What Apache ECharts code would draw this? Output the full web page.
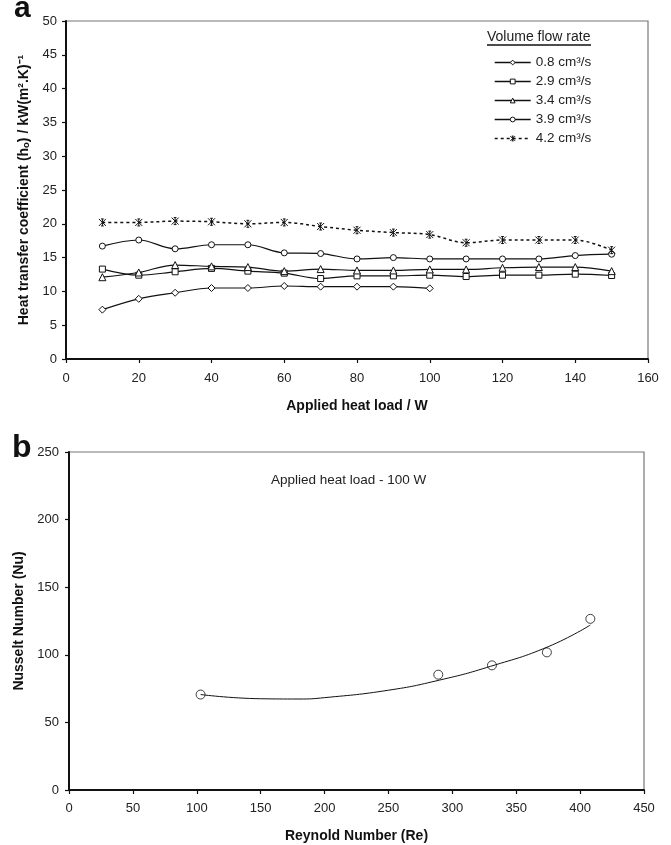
<!DOCTYPE html>
<html>
<head>
<meta charset="utf-8">
<script src="https://cdn.jsdelivr.net/npm/echarts@6/dist/echarts.min.js"></script>
<style>
  html,body{margin:0;padding:0;background:#fff;}
  #main{width:671px;height:845px;}
</style>
</head>
<body>
<div id="main"></div>
<script>
// panel a : heat load vs h
var heatLoad = [10,20,30,40,50,60,70,80,90,100,110,120,130,140,150];
var flowNames = ['0.8 cm³/s','2.9 cm³/s','3.4 cm³/s','3.9 cm³/s','4.2 cm³/s'];
var flow08 = [7.3,8.9,9.8,10.5,10.5,10.8,10.7,10.7,10.7,10.45];
var flow29 = [13.3,12.4,12.9,13.4,13.0,12.7,11.9,12.3,12.3,12.4,12.2,12.4,12.4,12.55,12.35];
var flow34 = [12.1,12.8,13.9,13.7,13.6,13.0,13.3,13.1,13.1,13.25,13.25,13.5,13.6,13.6,13.0];
var flow39 = [16.7,17.6,16.3,16.9,16.9,15.7,15.6,14.8,15.0,14.8,14.8,14.8,14.8,15.3,15.5];
var flow42 = [20.2,20.2,20.4,20.3,20.0,20.2,19.6,19.05,18.7,18.4,17.2,17.6,17.6,17.6,16.1];

// panel b : Re vs Nu
var reMeasured = [103,289,331,374,408];
var nuMeasured = [70.6,85.3,92.2,101.8,126.6];
var reFit = [103,150,180,200,250,290,330,375,408];
var nuFit = [70.6,67.5,67.3,68.3,73.8,81.3,91.5,106,122];

var starPath = 'path://M0,0L10,10M10,0L0,10M5,0L5,10M3,0L7,0M3,10L7,10';
var diamondPath = 'path://M5,0L10,5L5,10L0,5Z';

function pairs(xs, ys){
	var out=[];
	for (var i = 0; i < ys.length; i++) {
		out.push([xs[i], ys[i]]);
	}
	return out;
}

var chart=echarts.init(document.getElementById('main'));
var fam='Liberation Sans, Arial, sans-serif';

function axisCommon(min,max,interval,name,gap,margin){
	return {
		type:'value', min:min, max:max, interval:interval,
		name:name, nameLocation:'middle', nameGap:gap,
		nameTextStyle:{fontFamily:fam,fontSize:14,fontWeight:'bold',color:'#111'},
		axisLine:{show:true,onZero:false,lineStyle:{color:'#111',width:2}},
		axisTick:{show:true,inside:false,length:4,lineStyle:{color:'#111',width:1.2}},
		axisLabel:{fontFamily:fam,fontSize:13,color:'#222',margin:margin},
		splitLine:{show:false}
	};
}

function flowSeries(idx,data,symbol,size,dashed){
	return {
		name:flowNames[idx], type:'line', xAxisIndex:0, yAxisIndex:0,
		data:pairs(heatLoad,data), smooth:0.35,
		symbol:symbol, symbolSize:size,
		lineStyle:{color:'#111',width:dashed?1.5:1.2,type:dashed?[3,3]:'solid'},
		itemStyle:{color:'#fff',borderColor:'#111',borderWidth:1},
		z:3
	};
}

var option={
	animation:false,
	backgroundColor:'#fff',
	grid:[
		{left:66,right:23,top:21,bottom:486,show:true,borderColor:'#777',borderWidth:1.2},
		{left:69,right:27,top:452,bottom:55,show:true,borderColor:'#777',borderWidth:1.2}
	],
	xAxis:[
		Object.assign(axisCommon(0,160,20,'Applied heat load / W',40,13),{gridIndex:0}),
		Object.assign(axisCommon(0,450,50,'Reynold Number (Re)',39,12),{gridIndex:1})
	],
	yAxis:[
		Object.assign(axisCommon(0,50,5,'Heat transfer coefficient (hₒ) / kW(m².K)⁻¹',26,9),{gridIndex:0}),
		Object.assign(axisCommon(0,250,50,'Nusselt Number (Nu)',40,10),{gridIndex:1})
	],
	legend:{
		data:flowNames,
		orient:'vertical',
		left:489, top:50,
		itemWidth:36, itemHeight:6, itemGap:4,
		itemStyle:{color:'#fff',borderColor:'#111',borderWidth:1},
		lineStyle:{color:'#111',width:1.4},
		textStyle:{fontFamily:fam,fontSize:13.5,color:'#222',lineHeight:15}
	},
	graphic:[
		{type:'text',left:14,top:-6,style:{text:'a',font:'bold 30px Liberation Sans, Arial',fill:'#111'}},
		{type:'text',left:12,top:432,style:{text:'b',font:'bold 32px Liberation Sans, Arial',fill:'#111'}},
		{type:'text',left:487,top:30,style:{text:'Volume flow rate',font:'14px Liberation Sans, Arial',fill:'#222'}},
		{type:'line',shape:{x1:487,y1:45,x2:591,y2:45},style:{stroke:'#111',lineWidth:1.5}},
		{type:'text',left:271,top:473,style:{text:'Applied heat load - 100 W',font:'13.5px Liberation Sans, Arial',fill:'#222'}}
	],
	series:[
		flowSeries(0,flow08,diamondPath,7,false),
		flowSeries(1,flow29,'rect',6,false),
		flowSeries(2,flow34,'triangle',7,false),
		flowSeries(3,flow39,'circle',6,false),
		flowSeries(4,flow42,starPath,7,true),
		{
			name:'fit', type:'line', xAxisIndex:1, yAxisIndex:1,
			data:pairs(reFit,nuFit), smooth:true, showSymbol:false, symbol:'none',
			lineStyle:{color:'#111',width:1}
		},
		{
			name:'measured', type:'scatter', xAxisIndex:1, yAxisIndex:1,
			data:pairs(reMeasured,nuMeasured), symbol:'circle', symbolSize:9,
			itemStyle:{color:'rgba(255,255,255,0)',borderColor:'#111',borderWidth:1}
		}
	]
};
chart.setOption(option);
</script>
</body>
</html>
